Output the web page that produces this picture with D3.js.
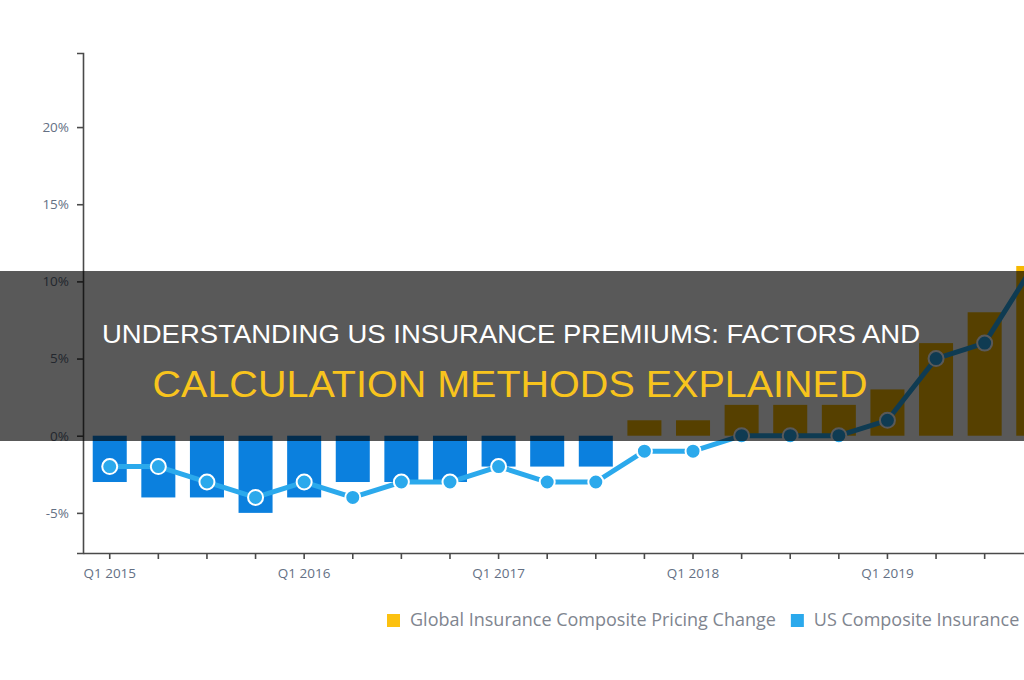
<!DOCTYPE html>
<html>
<head>
<meta charset="utf-8">
<script src="https://cdnjs.cloudflare.com/ajax/libs/d3/7.8.5/d3.min.js"></script>
<style>
  body { margin: 0; background: #fff; }
  svg { display: block; }
</style>
</head>
<body>
<svg width="1024" height="680"></svg>
<script>
// quarters shown in the crop (chart runs past the right edge)
var quarters = ["Q1 2015","Q2 2015","Q3 2015","Q4 2015",
                "Q1 2016","Q2 2016","Q3 2016","Q4 2016",
                "Q1 2017","Q2 2017","Q3 2017","Q4 2017",
                "Q1 2018","Q2 2018","Q3 2018","Q4 2018",
                "Q1 2019","Q2 2019","Q3 2019","Q4 2019"];
var globalChange = [-3,-4,-4,-5,-4,-3,-3,-3,-2,-2,-2,1,1,2,2,2,3,6,8,11];
var usChange = [-2,-2,-3,-4,-3,-4,-3,-3,-2,-3,-3,-1,-1,0,0,0,1,5,6,11];
var yTicks = [-5, 0, 5, 10, 15, 20];
var legendNames = ["Global Insurance Composite Pricing Change", "US Composite Insurance"];
var titleLine1 = "UNDERSTANDING US INSURANCE PREMIUMS: FACTORS AND";
var titleLine2 = "CALCULATION METHODS EXPLAINED";

var gold = "#f6b800";
var barBlue = "#0b80de";
var lineBlue = "#2ba9ec";

drawChart = function() {
  var svg = d3.select("svg");

  var x = d3.scaleBand()
    .domain(quarters)
    .range([83, 1060])
    .paddingInner(0.3)
    .paddingOuter(0.2);

  var y = d3.scaleLinear()
    .domain([-7.6, 24.8])
    .range([553, 53]);

  // bars, coloured by sign
  svg.append("g")
    .selectAll("rect")
    .data(globalChange).enter()
    .append("rect")
    .attr("x", function(d, i){ return x(quarters[i]); })
    .attr("y", function(d){ return y(Math.max(0, d)); })
    .attr("width", x.bandwidth())
    .attr("height", function(d){ return Math.abs(y(d) - y(0)); })
    .attr("fill", function(d){ return d < 0 ? barBlue : gold; });

  var leftAxis = d3.axisLeft(y)
    .tickValues(yTicks)
    .tickSize(6)
    .tickPadding(8)
    .tickFormat(function(d){ return d + "%"; });

  var yg = svg.append("g")
    .attr("transform", "translate(83,0)")
    .call(leftAxis);

  var bottomAxis = d3.axisBottom(x)
    .tickSize(6)
    .tickSizeOuter(0)
    .tickPadding(9)
    .tickFormat(function(d){ return d.indexOf("Q1") == 0 ? d : ""; });

  var xg = svg.append("g")
    .attr("transform", "translate(0," + y(-7.6) + ")")
    .call(bottomAxis);

  [yg, xg].forEach(function(g) {
    g.selectAll("path, line").attr("stroke", "#4a4a4a").attr("stroke-width", 1.6);
    g.selectAll("text")
      .attr("fill", "#647084")
      .style("font-family", "'Open Sans', sans-serif")
      .style("font-size", "13.5px");
  });

  // US line with markers
  var line = d3.line()
    .x(function(d, i){ return x(quarters[i]) + x.bandwidth() / 2; })
    .y(function(d){ return y(d); });

  svg.append("path")
    .datum(usChange)
    .attr("d", line)
    .attr("fill", "none")
    .attr("stroke", lineBlue)
    .attr("stroke-width", 5)
    .attr("stroke-linejoin", "round");

  svg.append("g")
    .selectAll("circle")
    .data(usChange).enter()
    .append("circle")
    .attr("cx", function(d, i){ return x(quarters[i]) + x.bandwidth() / 2; })
    .attr("cy", function(d){ return y(d); })
    .attr("r", 7.5)
    .attr("fill", lineBlue)
    .attr("stroke", "#fff")
    .attr("stroke-width", 2);

  // legend
  var legend = svg.append("g").attr("transform", "translate(387,614)");
  var lx = 0;
  legendNames.forEach(function(name, i) {
    var item = legend.append("g").attr("transform", "translate(" + lx + ",0)");
    item.append("rect")
      .attr("width", 13).attr("height", 13)
      .attr("fill", i == 0 ? "#fcc110" : lineBlue);
    var t = item.append("text")
      .attr("x", 23).attr("y", 12)
      .attr("fill", "#80858f")
      .style("font-family", "'Open Sans', sans-serif")
      .style("font-size", "18px")
      .text(name);
    lx += 23 + t.node().getComputedTextLength() + 15;
  });

  // dark banner with the title
  svg.append("rect")
    .attr("x", 0).attr("y", 271)
    .attr("width", 1024).attr("height", 170)
    .attr("fill", "rgba(0,0,0,0.65)");

  svg.append("text")
    .attr("x", 511).attr("y", 343)
    .attr("text-anchor", "middle")
    .attr("textLength", 818)
    .attr("lengthAdjust", "spacingAndGlyphs")
    .attr("fill", "#ffffff")
    .style("font-family", "'Liberation Sans', Arial, sans-serif")
    .style("font-size", "26px")
    .text(titleLine1);

  svg.append("text")
    .attr("x", 510).attr("y", 397)
    .attr("text-anchor", "middle")
    .attr("textLength", 715)
    .attr("lengthAdjust", "spacingAndGlyphs")
    .attr("fill", "#f8c41d")
    .style("font-family", "'Liberation Sans', Arial, sans-serif")
    .style("font-size", "37px")
    .text(titleLine2);
};

drawChart();
</script>
</body>
</html>
